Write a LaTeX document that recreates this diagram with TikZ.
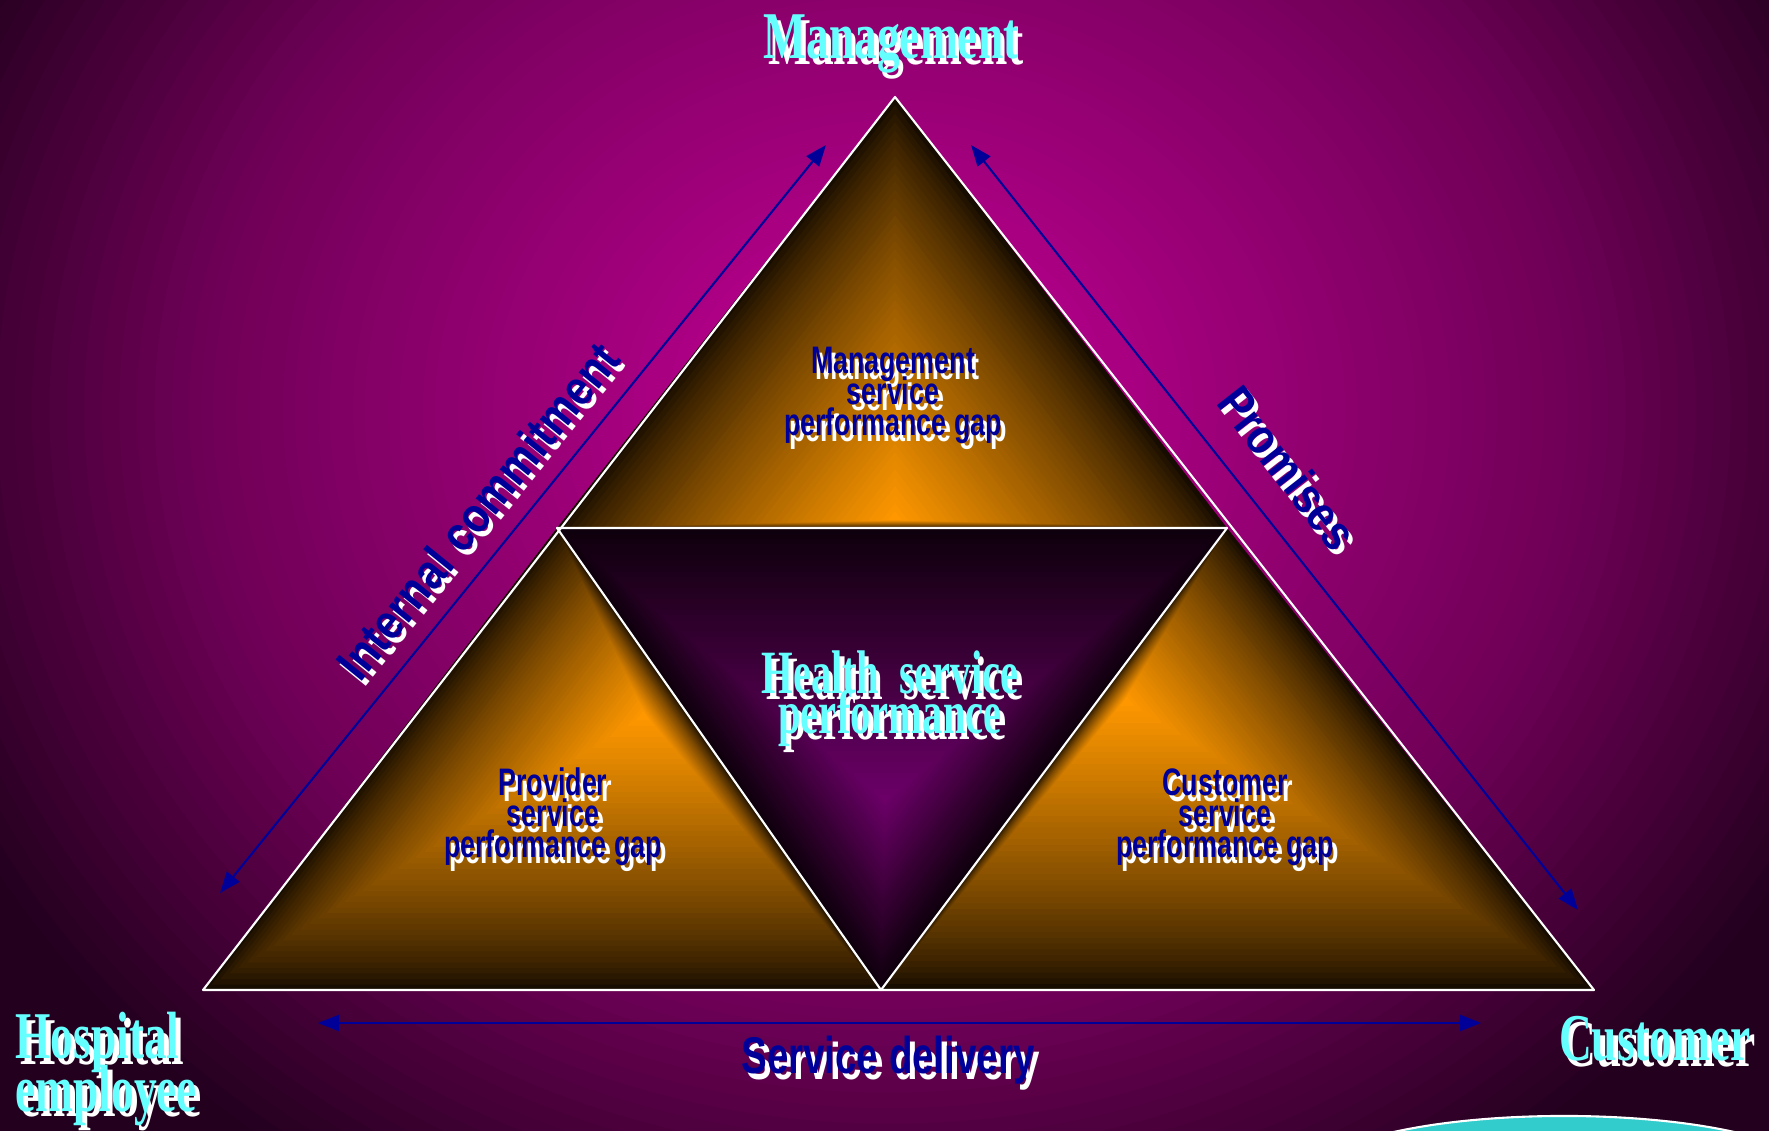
\documentclass[tikz,border=0pt]{standalone}
\usepackage{fontspec}
\usetikzlibrary{calc,arrows.meta}
\newfontfamily\labelserif{Liberation Serif}
\newfontfamily\labelsans{Liberation Sans}
\lineskiplimit=-\maxdimen

\definecolor{bgdark}{RGB}{35,0,30}
\definecolor{bgmid}{RGB}{110,0,86}
\definecolor{bgbright}{RGB}{200,0,152}
\definecolor{glowedge}{RGB}{22,12,0}
\definecolor{glowcore}{RGB}{255,152,0}
\definecolor{coreedge}{RGB}{14,0,12}
\definecolor{corecore}{RGB}{108,0,104}
\definecolor{gapblue}{RGB}{0,0,153}
\definecolor{titlecyan}{RGB}{102,255,255}
\definecolor{buttonteal}{RGB}{51,204,204}

\newcommand{\offsetshadow}[4]{\leavevmode\rlap{\kern#1\raisebox{#2}{\color{white}#4}}{\color{#3}#4}}
\newcommand{\shadowed}[2]{\offsetshadow{2pt}{-1.7pt}{#1}{#2}}

\tikzset{
  cornerlabel/.style={inner sep=0pt, xscale=0.68, font=\labelserif\bfseries\fontsize{19}{14.8}\selectfont},
  centrelabel/.style={inner sep=0pt, xscale=0.66, align=center, font=\labelserif\bfseries\fontsize{17.5}{11.3}\selectfont},
  gaplabel/.style={inner sep=0pt, xscale=0.7, align=center, font=\labelsans\bfseries\fontsize{10.9}{8.8}\selectfont},
  sidelabel/.style={inner sep=0pt, xscale=0.86, font=\labelsans\bfseries\fontsize{14}{14}\selectfont},
  deliverylabel/.style={inner sep=0pt, xscale=0.745, font=\labelsans\bfseries\fontsize{14.7}{14.7}\selectfont},
  gaparrow/.style={draw=gapblue, line width=0.6pt, arrows={Triangle[length=6pt,width=4.6pt]-Triangle[length=6pt,width=4.6pt]}},
  edgeline/.style={draw=white, line width=0.6pt, line join=round}
}

\begin{document}
\begin{tikzpicture}[x=0.01cm, y=-0.01cm]
    \useasboundingbox (0,0) rectangle (1769,1131);
    \clip (0,0) rectangle (1769,1131);

    % background
    \fill[bgdark] (0,0) rectangle (1769,1131);
    \foreach \i in {0,...,40} {
        \pgfmathsetmacro{\r}{2-\i*0.025}
        \pgfmathtruncatemacro{\p}{max(0,min(100,(1.5-\r)*200))}
        \fill[bgmid!\p!bgdark] (890,410) ellipse [x radius={7cm*\r}, y radius={6.2cm*\r}];
    }
    \foreach \i in {1,...,59} {
        \pgfmathsetmacro{\r}{1-\i/60}
        \pgfmathtruncatemacro{\p}{100*\i/60}
        \fill[bgbright!\p!bgmid] (890,410) ellipse [x radius={7cm*\r}, y radius={6.2cm*\r}];
    }

    \coordinate (apex) at (895,97);
    \coordinate (lowleft) at (203,990);
    \coordinate (lowright) at (1594,990);
    \coordinate (midleft) at (557,528);
    \coordinate (midright) at (1227,528);
    \coordinate (bottommid) at (881,990);

    \coordinate (topfocus) at (895,520);
    \coordinate (leftfocus) at (645,715);
    \coordinate (rightfocus) at (1125,700);
    \coordinate (corefocus) at (885,800);

    \foreach \i in {0,...,49} {
        \pgfmathsetmacro{\s}{1-\i/50}
        \pgfmathtruncatemacro{\p}{100*(\i/49)^0.75}
        \pgfmathtruncatemacro{\q}{100*\i/49}
        \fill[glowcore!\p!glowedge] ($(topfocus)!\s!(apex)$) -- ($(topfocus)!\s!(midleft)$) -- ($(topfocus)!\s!(midright)$) -- cycle;
        \fill[glowcore!\p!glowedge] ($(leftfocus)!\s!(midleft)$) -- ($(leftfocus)!\s!(lowleft)$) -- ($(leftfocus)!\s!(bottommid)$) -- cycle;
        \fill[glowcore!\p!glowedge] ($(rightfocus)!\s!(midright)$) -- ($(rightfocus)!\s!(bottommid)$) -- ($(rightfocus)!\s!(lowright)$) -- cycle;
        \fill[corecore!\q!coreedge] ($(corefocus)!\s!(midleft)$) -- ($(corefocus)!\s!(midright)$) -- ($(corefocus)!\s!(bottommid)$) -- cycle;
    }

    \draw[edgeline] (apex) -- (lowleft) -- (lowright) -- cycle;
    \draw[edgeline] (midleft) -- (midright) -- (bottommid) -- cycle;

    \filldraw[fill=buttonteal, draw=white, line width=0.6pt] (1564,1176) ellipse [x radius=2.5cm, y radius=0.6cm];

    \coordinate (ic-lo) at (220,893);
    \coordinate (ic-hi) at (826,145);
    \coordinate (pr-hi) at (971,145);
    \coordinate (pr-lo) at (1578,910);
    \coordinate (sd-l) at (318,1023);
    \coordinate (sd-r) at (1481,1023);
    \draw[gaparrow] (ic-lo) -- (ic-hi);
    \draw[gaparrow] (pr-hi) -- (pr-lo);
    \draw[gaparrow] (sd-l) -- (sd-r);

    \node[cornerlabel] (management) at (891,47) {\shadowed{titlecyan}{Management}};
    \node[cornerlabel, align=left, anchor=west] (employee) at (15,1072) {\shadowed{titlecyan}{Hospital}\\\shadowed{titlecyan}{employee}};
    \node[cornerlabel] (customer) at (1655,1042) {\shadowed{titlecyan}{Customer}};
    \node[centrelabel] (health) at (890,702) {\shadowed{titlecyan}{Health\ \ service}\\\shadowed{titlecyan}{performance}};

    \node[gaplabel] (mgmtgap) at (893,398) {\shadowed{gapblue}{Management}\\\shadowed{gapblue}{service}\\\shadowed{gapblue}{performance gap}};
    \node[gaplabel] (provgap) at (553,820) {\shadowed{gapblue}{Provider}\\\shadowed{gapblue}{service}\\\shadowed{gapblue}{performance gap}};
    \node[gaplabel] (custgap) at (1225,820) {\shadowed{gapblue}{Customer}\\\shadowed{gapblue}{service}\\\shadowed{gapblue}{performance gap}};

    \node[rotate=51, sidelabel] (commitment) at (480,513) {\offsetshadow{-0.4pt}{-1.8pt}{gapblue}{Internal commitment}};
    \node[rotate=-52, sidelabel] (promises) at (1288,468) {\offsetshadow{2.1pt}{0pt}{gapblue}{Promises}};
    \node[deliverylabel] (delivery) at (888,1063) {\shadowed{gapblue}{Service delivery}};
\end{tikzpicture}
\end{document}
